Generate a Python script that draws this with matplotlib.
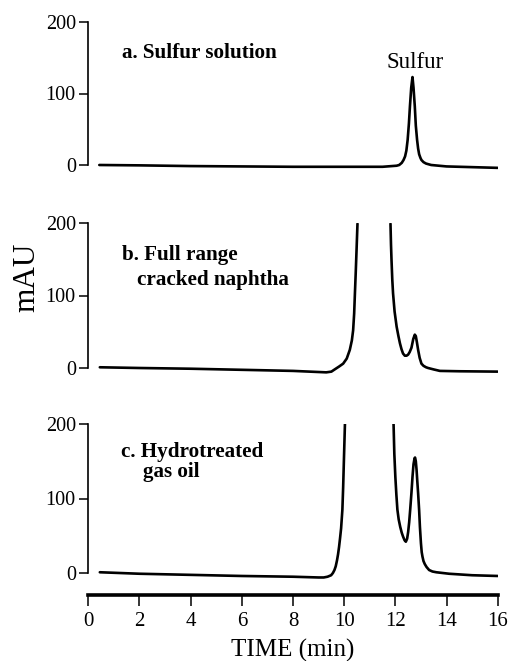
import numpy as np
import matplotlib
matplotlib.use("Agg")
import matplotlib.pyplot as plt

nan = float("nan")

# ---- data (time in min, signal in mAU) ----
a_time = [0.43, 2.0, 4.0, 6.0, 8.0, 10.0, 11.5, 12.05, 12.15, 12.25, 12.32, 12.38, 12.43,
          12.48, 12.53, 12.57, 12.62, 12.67, 12.71, 12.76, 12.8, 12.85, 12.89, 12.93,
          12.98, 13.02, 13.1, 13.2, 13.4, 14.0, 16.0]
a_mau = [0, -0.5, -1.5, -2, -2.5, -2.5, -2.5, -1, 0, 3, 7, 12, 20,
         35, 58, 82, 108, 123, 108, 82, 55, 35, 23, 15,
         10, 7, 4, 2, 0, -2, -4]

b_time = [0.45, 2.0, 4.0, 6.0, 8.0, 9.3, 9.5, 9.67, 9.8, 9.96, 10.1, 10.22, 10.3, 10.35,
          10.39, 10.42, 10.45, 10.48, 10.52,
          nan,
          11.81, 11.83, 11.85, 11.88, 11.91, 11.97, 12.05, 12.12, 12.18, 12.24, 12.3, 12.37,
          12.44, 12.5, 12.56, 12.63, 12.7, 12.76, 12.8, 12.84, 12.89, 12.95, 13.02, 13.1,
          13.2, 13.28, 13.5, 13.74, 14.5, 16.0]
b_mau = [1, 0, -1, -2.5, -4, -6, -5, -1, 2, 6, 13, 25, 38, 52,
         75, 103, 130, 159, 199,
         nan,
         199, 170, 149, 122, 103, 78, 57, 44, 34, 26, 20, 17,
         17, 18.5, 22, 28, 40, 46, 44, 36, 25, 14, 6, 3,
         1, 0, -2, -4, -4.5, -5]

c_time = [0.45, 2.0, 4.0, 6.0, 8.0, 9.0, 9.2, 9.35, 9.49, 9.56, 9.62, 9.67, 9.72, 9.76,
          9.8, 9.84, 9.88, 9.93, 9.96, 9.99, 10.03,
          nan,
          11.93, 11.96, 12.0, 12.04, 12.08, 12.13, 12.19, 12.25, 12.3, 12.36, 12.41, 12.46,
          12.5, 12.54, 12.58, 12.63, 12.67, 12.71, 12.75, 12.77, 12.8, 12.83, 12.86, 12.89,
          12.93, 12.96, 13.0, 13.03, 13.06, 13.1, 13.15, 13.22, 13.32, 13.45, 13.6, 14.1,
          15.0, 16.0]
c_mau = [1, -1, -2.5, -4, -5, -6, -6, -5, -3, 0, 4, 9, 17, 25,
         35, 47, 60, 85, 115, 152, 200,
         nan,
         200, 160, 129, 105, 85, 72, 62, 54, 49, 44, 42, 46,
         55, 68, 85, 108, 129, 146, 154, 155, 150, 138, 122, 107,
         84, 62, 40, 28, 22, 16, 12, 8, 4, 2, 1, -1,
         -3, -4]

panel_labels = [["a. Sulfur solution"],
                ["b. Full range", "cracked naphtha"],
                ["c. Hydrotreated", "gas oil"]]
peak_label = "Sulfur"
y_ticks = [0, 100, 200]
x_ticks = [0, 2, 4, 6, 8, 10, 12, 14, 16]
y_label = "mAU"
x_label = "TIME (min)"

# ---- figure ----
W, H = 511, 661
fig = plt.figure(figsize=(W / 100, H / 100), dpi=100)
serif = ["Liberation Serif", "DejaVu Serif"]
plt.rcParams["font.family"] = serif

x0_px, x1_px = 88.3, 497.7
left = x0_px / W
width = (x1_px - x0_px) / W


def make_axes(top_px, bottom_px):
    return fig.add_axes([left, 1 - bottom_px / H, width, (bottom_px - top_px) / H])


# pixel positions of y = 200 and y = -20 for each panel
ax_a = make_axes(22, 165 + 20 * 0.715)
ax_b = make_axes(223, 368 + 20 * 0.725)
ax_c = make_axes(424, 573 + 20 * 0.745)

series = [(a_time, a_mau), (b_time, b_mau), (c_time, c_mau)]
axes = [ax_a, ax_b, ax_c]
for ax, (t, v) in zip(axes, series):
    ax.plot(t, v, color="black", lw=1.9, solid_joinstyle="round", solid_capstyle="round")
    ax.set_xlim(0, 16)
    ax.set_ylim(-20, 200)
    for s in ["top", "right", "bottom"]:
        ax.spines[s].set_visible(False)
    ax.spines["left"].set_bounds(0, 200)
    ax.spines["left"].set_linewidth(1.2)
    ax.set_xticks([])
    ax.set_yticks(y_ticks)
    ax.set_yticklabels([str(v) for v in y_ticks])
    ax.tick_params(axis="y", direction="out", length=6.5, width=1.1, pad=2.5, labelsize=14.5)
    ax.patch.set_alpha(0)

bold = dict(fontsize=15.2, fontweight="bold", family=serif, ha="left", va="center")
fig.text(122 / W, 1 - 53 / H, panel_labels[0][0], **bold)
fig.text(122 / W, 1 - 255 / H, panel_labels[1][0], **bold)
fig.text(137 / W, 1 - 280 / H, panel_labels[1][1], **bold)
fig.text(121 / W, 1 - 452 / H, panel_labels[2][0], **bold)
fig.text(143 / W, 1 - 472 / H, panel_labels[2][1], **bold)

fig.text(415 / W, 1 - 62 / H, peak_label, ha="center", va="center", fontsize=16.5,
         family=serif)

fig.text(27 / W, 1 - 277 / H, y_label, rotation=90, ha="center", va="center",
         fontsize=22.5, family=serif)

# shared time axis
ax_x = fig.add_axes([left, 1 - 595 / H, width, 0.0001])
ax_x.set_xlim(0, 16)
ax_x.set_ylim(0, 1)
for s in ["top", "right", "left"]:
    ax_x.spines[s].set_visible(False)
ax_x.spines["bottom"].set_linewidth(2.6)
ax_x.set_yticks([])
ax_x.set_xticks(x_ticks)
ax_x.set_xticklabels([str(v) for v in x_ticks])
ax_x.tick_params(axis="x", direction="out", length=8, width=1.1, pad=4, labelsize=15)
fig.text((x0_px + x1_px) / 2 / W, 1 - 650 / H, x_label, ha="center", va="center",
         fontsize=18, family=serif)

fig.savefig("out.png", dpi=100, facecolor="white")
